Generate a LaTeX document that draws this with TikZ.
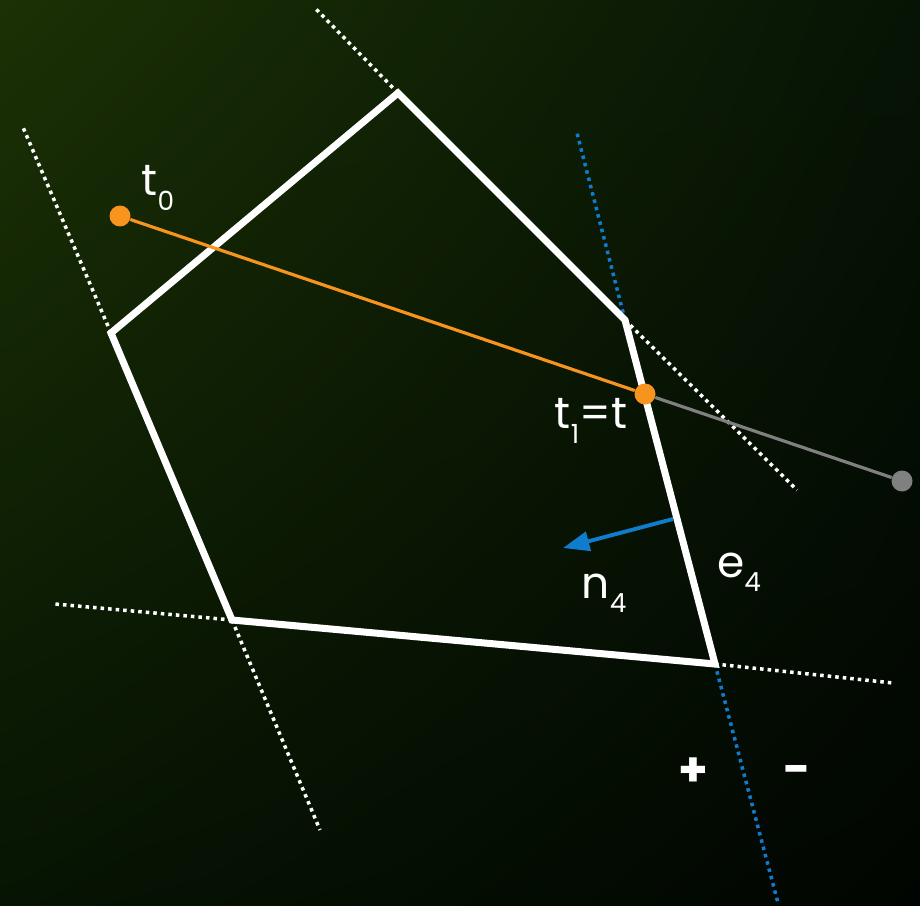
\documentclass[tikz,border=0pt]{standalone}
\usepackage{fontspec}
\setmainfont{Poppins}
\usetikzlibrary{arrows.meta, shadings}

\definecolor{bgtopleft}{RGB}{28,49,5}
\definecolor{bgtopright}{RGB}{6,20,5}
\definecolor{bgbottomleft}{RGB}{6,20,3}
\definecolor{bgbottomright}{RGB}{1,5,1}
\definecolor{rayorange}{RGB}{247,148,29}
\definecolor{normalblue}{RGB}{16,124,206}
\definecolor{raygray}{RGB}{128,128,128}

\newcommand{\lowsub}[1]{\raisebox{-0.6ex}{\fontsize{15}{15}\selectfont #1}}

\begin{document}
\begin{tikzpicture}[x=0.02cm, y=-0.02cm,
    edge line/.style={white, line width=4pt, line join=miter},
    ext line/.style={line width=2pt, dash pattern=on 2pt off 2.3pt},
    ray dot/.style={circle, inner sep=0pt, minimum size=0.42cm},
    tag/.style={text=white, inner sep=0pt, font=\fontsize{25}{28}\selectfont}]
    \useasboundingbox (0,0) rectangle (920,906);
    \shade[upper left=bgtopleft, upper right=bgtopright, lower left=bgbottomleft, lower right=bgbottomright]
        (0,0) rectangle (920,906);

    % pentagon corners
    \coordinate (va) at (398,93);
    \coordinate (vb) at (625,320);
    \coordinate (vc) at (715,664);
    \coordinate (vd) at (232,620);
    \coordinate (ve) at (111,333);

    % ends of the extended edges
    \coordinate (xa) at (315,8);
    \coordinate (xb) at (797,490);
    \coordinate (xc) at (893,683);
    \coordinate (xd) at (55,604);
    \coordinate (xdd) at (320,830);
    \coordinate (xe) at (22,125);
    \coordinate (eup) at (577,133);
    \coordinate (edown) at (778,903);

    \draw[ext line, white] (va) -- (xa);
    \draw[ext line, white] (vb) -- (xb);
    \draw[ext line, white] (vc) -- (xc);
    \draw[ext line, white] (vd) -- (xd);
    \draw[ext line, white] (vd) -- (xdd);
    \draw[ext line, white] (ve) -- (xe);
    \draw[ext line, normalblue] (vb) -- (eup);
    \draw[ext line, normalblue] (vc) -- (edown);

    \draw[edge line] (va) -- (vb) -- (vc) -- (vd) -- (ve) -- cycle;

    % the ray
    \node[ray dot, fill=rayorange] (t0) at (120,216) {};
    \node[ray dot, fill=rayorange] (t1) at (645,394) {};
    \node[ray dot, fill=raygray] (tend) at (902,481) {};
    \draw[raygray, line width=1.8pt] (t1) -- (tend);
    \draw[rayorange, line width=1.8pt] (t0) -- (t1);

    % normal of e4
    \coordinate (nbase) at (673,519);
    \coordinate (ntip) at (563,548);
    \draw[normalblue, line width=2.2pt, -{Triangle[length=15pt, width=11pt]}] (nbase) -- (ntip);

    \node[tag] (lt0) at (158,188) {t\lowsub{0}};
    \node[tag] (lt1) at (591,421) {t\lowsub{1}=t};
    \node[tag] (ln4) at (604,593) {n\lowsub{4}};
    \node[tag] (le4) at (739,572) {e\lowsub{4}};
    \node[tag, font=\fontsize{27}{28}\selectfont\bfseries] (plus) at (693,772) {+};
    \node[tag, font=\fontsize{27}{28}\selectfont\bfseries] (minus) at (797,775) {-};
\end{tikzpicture}
\end{document}
